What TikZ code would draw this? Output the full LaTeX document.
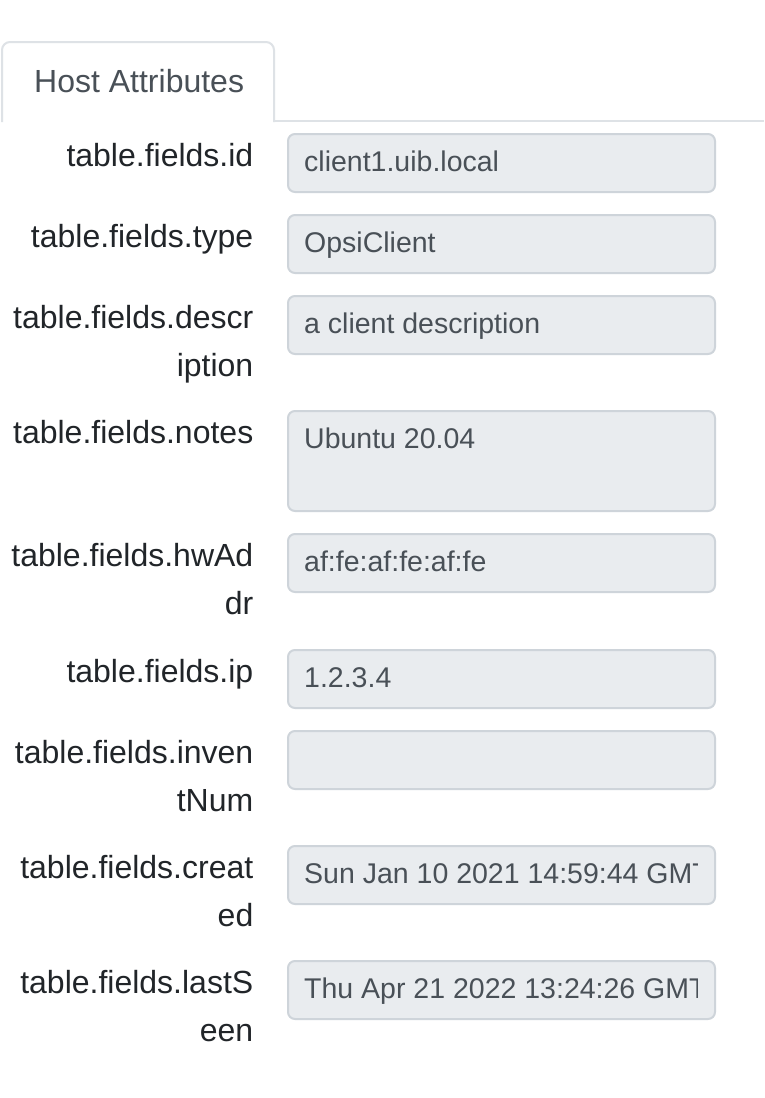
\documentclass[tikz,border=0pt]{standalone}
\usepackage{fontspec}
\setmainfont{Liberation Sans}
\definecolor{labelc}{HTML}{212529}
\definecolor{inputc}{HTML}{495057}
\definecolor{inputbg}{HTML}{E9ECEF}
\definecolor{inputbd}{HTML}{CED4DA}
\definecolor{tabbd}{HTML}{DEE2E6}
\begin{document}
\begin{tikzpicture}[x=1pt,y=-1pt,
  lbl/.style={anchor=base east, inner sep=0pt, text=labelc, font=\fontsize{32}{48}\selectfont},
  val/.style={anchor=base west, inner sep=0pt, text=inputc, font=\fontsize{28.5}{42}\selectfont},
  field/.style={fill=inputbg, draw=inputbd, line width=2pt, rounded corners=7pt},
  tabtxt/.style={anchor=base west, inner sep=0pt, text=inputc, font=\fontsize{32}{48}\selectfont}]
\useasboundingbox (0,0) rectangle (764,1098);
\fill[white] (0,0) rectangle (764,1098);
% tab
\draw[tabbd, line width=2pt] (274,121) -- (764,121);
\draw[tabbd, line width=2pt, rounded corners=8pt] (2,122) -- (2,42) -- (274,42) -- (274,122);
\node[tabtxt] (tab) at (34,92) {Host Attributes};
% fields
\foreach \t/\h in {133/60,214/60,295/60,410/102,533/60,649/60,730/60,845/60,960/60}{
  \draw[field] (288,\t+1) rectangle (715,\t+\h-1);
}
% labels
\node[lbl] (l1) at (253.5,166) {table.fields.id};
\node[lbl] (l2) at (253.5,247) {table.fields.type};
\node[lbl] (l3) at (253.5,328) {table.fields.descr};
\node[lbl] (l3b) at (253.5,376) {iption};
\node[lbl] (l4) at (253.5,443) {table.fields.notes};
\node[lbl] (l5) at (253.5,566) {table.fields.hwAd};
\node[lbl] (l5b) at (253.5,614) {dr};
\node[lbl] (l6) at (253.5,682) {table.fields.ip};
\node[lbl] (l7) at (253.5,763) {table.fields.inven};
\node[lbl] (l7b) at (253.5,811) {tNum};
\node[lbl] (l8) at (253.5,878) {table.fields.creat};
\node[lbl] (l8b) at (253.5,926) {ed};
\node[lbl] (l9) at (253.5,993) {table.fields.lastS};
\node[lbl] (l9b) at (253.5,1041) {een};
% values
\node[val] (v1) at (304,171) {client1.uib.local};
\node[val] (v2) at (304,252) {OpsiClient};
\node[val] (v3) at (304,333) {a client description};
\node[val] (v4) at (304,448) {Ubuntu 20.04};
\node[val] (v5) at (304,571) {af:fe:af:fe:af:fe};
\node[val] (v6) at (304,687) {1.2.3.4};
\begin{scope}
\clip (300,845) rectangle (697,1020);
\node[val] (v8) at (304,883) {Sun Jan 10 2021 14:59:44 GMT};
\node[val] (v9) at (304,998) {Thu Apr 21 2022 13:24:26 GMT};
\end{scope}
\end{tikzpicture}
\end{document}
